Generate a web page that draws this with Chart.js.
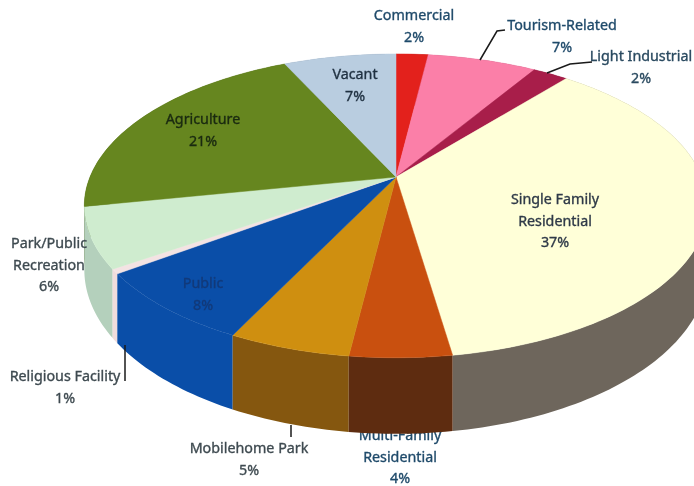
<!DOCTYPE html>
<html>
<head>
<meta charset="utf-8">
<title>Land use</title>
<script src="https://cdn.jsdelivr.net/npm/chart.js@4"></script>
<style>
  html, body { margin: 0; padding: 0; background: #fff; }
  canvas { display: block; }
</style>
</head>
<body>
<canvas id="pie" width="694" height="486"></canvas>
<script>
// data
const categories = ['Commercial', 'Tourism-Related', 'Light Industrial', 'Single Family\nResidential',
  'Multi-Family\nResidential', 'Mobilehome Park', 'Public', 'Religious Facility',
  'Park/Public\nRecreation', 'Agriculture', 'Vacant'];
// printed (rounded) percentages
const percentLabels = ['2%', '7%', '2%', '37%', '4%', '5%', '8%', '1%', '6%', '21%', '7%'];
// unrounded shares
const shares = [2, 6.8, 2.2, 36.6, 4.4, 5.3, 7.7, 0.5, 6.4, 21.1, 7];

// colours
const topColors = ['#e3211c', '#fb7fa8', '#a81e4a', '#ffffd8', '#c9500f', '#cf8f10',
  '#0a4ea8', '#f3e3e3', '#cfeccf', '#66861f', '#b9cde0'];
const wallColors = ['#8a1410', '#a04f6b', '#66122d', '#6e665c', '#5e2c10', '#85570f',
  '#0a4ea8', '#f0dcdc', '#b4d0bc', '#3f5413', '#7a8899'];
const textColors = ['#1f4a6a', '#1f4a6a', '#2a4a60', '#2f3a48', '#1f4a6a', '#3e4a50',
  '#123a7a', '#3e4a50', '#3e4a50', '#1a2a10', '#1f3040'];

// label placement: centre x, centre y of the first line
const labelPos = [[414, 16], [562, 26], [641, 57], [555, 200], [400, 436], [249, 449],
  [203, 284], [65, 377], [49, 244], [203, 120], [355, 75]];
const lineGap = 21.5;
const underPie = [4]; // Multi-Family sits behind the wall

const leaders = [
  [[480, 60], [497, 31], [505, 30]],
  [[547, 73], [570, 64], [592, 62]],
  [[125, 345], [125, 381]],
  [[291, 425], [291, 437]],
];

// perspective of the disc
const hub = { x: 396, y: 177 };
const RX = 306, RY = 146.4, TILT = 0.19, DEPTH = 61.6;

function project(a) {
  const u = Math.cos(a), v = Math.sin(a);
  const w = 1 - TILT * v;
  return { x: hub.x + RX * u / w, y: hub.y + RY * v / w, d: DEPTH / w };
}

function rimPoints(arc) {
  const n = Math.max(4, Math.ceil((arc.endAngle - arc.startAngle) / 0.02));
  const pts = [];
  for (let i = 0; i <= n; i++) {
    pts.push(project(arc.startAngle + (arc.endAngle - arc.startAngle) * i / n));
  }
  return pts;
}

function drawLabels(ctx, under) {
  ctx.save();
  ctx.font = '14.3px "Noto Sans", sans-serif';
  ctx.textAlign = 'center';
  ctx.textBaseline = 'middle';
  ctx.lineWidth = 0.35;
  categories.forEach((name, i) => {
    if (underPie.includes(i) !== under) return;
    const lines = name.split('\n').concat(percentLabels[i]);
    ctx.fillStyle = textColors[i];
    ctx.strokeStyle = textColors[i];
    lines.forEach((line, k) => {
      ctx.fillText(line, labelPos[i][0], labelPos[i][1] + k * lineGap);
      ctx.strokeText(line, labelPos[i][0], labelPos[i][1] + k * lineGap);
    });
  });
  ctx.restore();
}

// the library works out the slice angles, this only draws them in perspective
const pie3d = {
  id: 'pie3d',
  beforeDatasetDraw(chart, args) {
    const ctx = chart.ctx;
    const arcs = args.meta.data.map((arc, i) => ({ arc, i }));

    drawLabels(ctx, true);

    // side walls, back ones first
    const mid = o => Math.sin((o.arc.startAngle + o.arc.endAngle) / 2);
    arcs.slice().sort((a, b) => mid(a) - mid(b)).forEach(({ arc, i }) => {
      const pts = rimPoints(arc);
      ctx.beginPath();
      pts.forEach((p, k) => k ? ctx.lineTo(p.x, p.y) : ctx.moveTo(p.x, p.y));
      pts.slice().reverse().forEach(p => ctx.lineTo(p.x, p.y + p.d));
      ctx.closePath();
      ctx.fillStyle = wallColors[i];
      ctx.fill();
    });

    // top face
    arcs.forEach(({ arc, i }) => {
      ctx.beginPath();
      ctx.moveTo(hub.x, hub.y);
      rimPoints(arc).forEach(p => ctx.lineTo(p.x, p.y));
      ctx.closePath();
      ctx.fillStyle = arc.options.backgroundColor;
      ctx.strokeStyle = arc.options.backgroundColor;
      ctx.lineWidth = 0.5;
      ctx.fill();
      ctx.stroke();
    });

    return false; // skip the flat pie
  },
  afterDatasetsDraw(chart) {
    const ctx = chart.ctx;
    drawLabels(ctx, false);
    ctx.save();
    ctx.strokeStyle = '#1a1a1a';
    ctx.lineWidth = 1.5;
    leaders.forEach(line => {
      ctx.beginPath();
      line.forEach((p, k) => k ? ctx.lineTo(p[0], p[1]) : ctx.moveTo(p[0], p[1]));
      ctx.stroke();
    });
    ctx.restore();
  }
};

new Chart(document.getElementById('pie'), {
  type: 'pie',
  data: {
    labels: categories,
    datasets: [{ data: shares, backgroundColor: topColors, borderWidth: 0 }]
  },
  options: {
    responsive: false,
    animation: false,
    plugins: { legend: { display: false }, tooltip: { enabled: false } }
  },
  plugins: [pie3d]
});
</script>
</body>
</html>
